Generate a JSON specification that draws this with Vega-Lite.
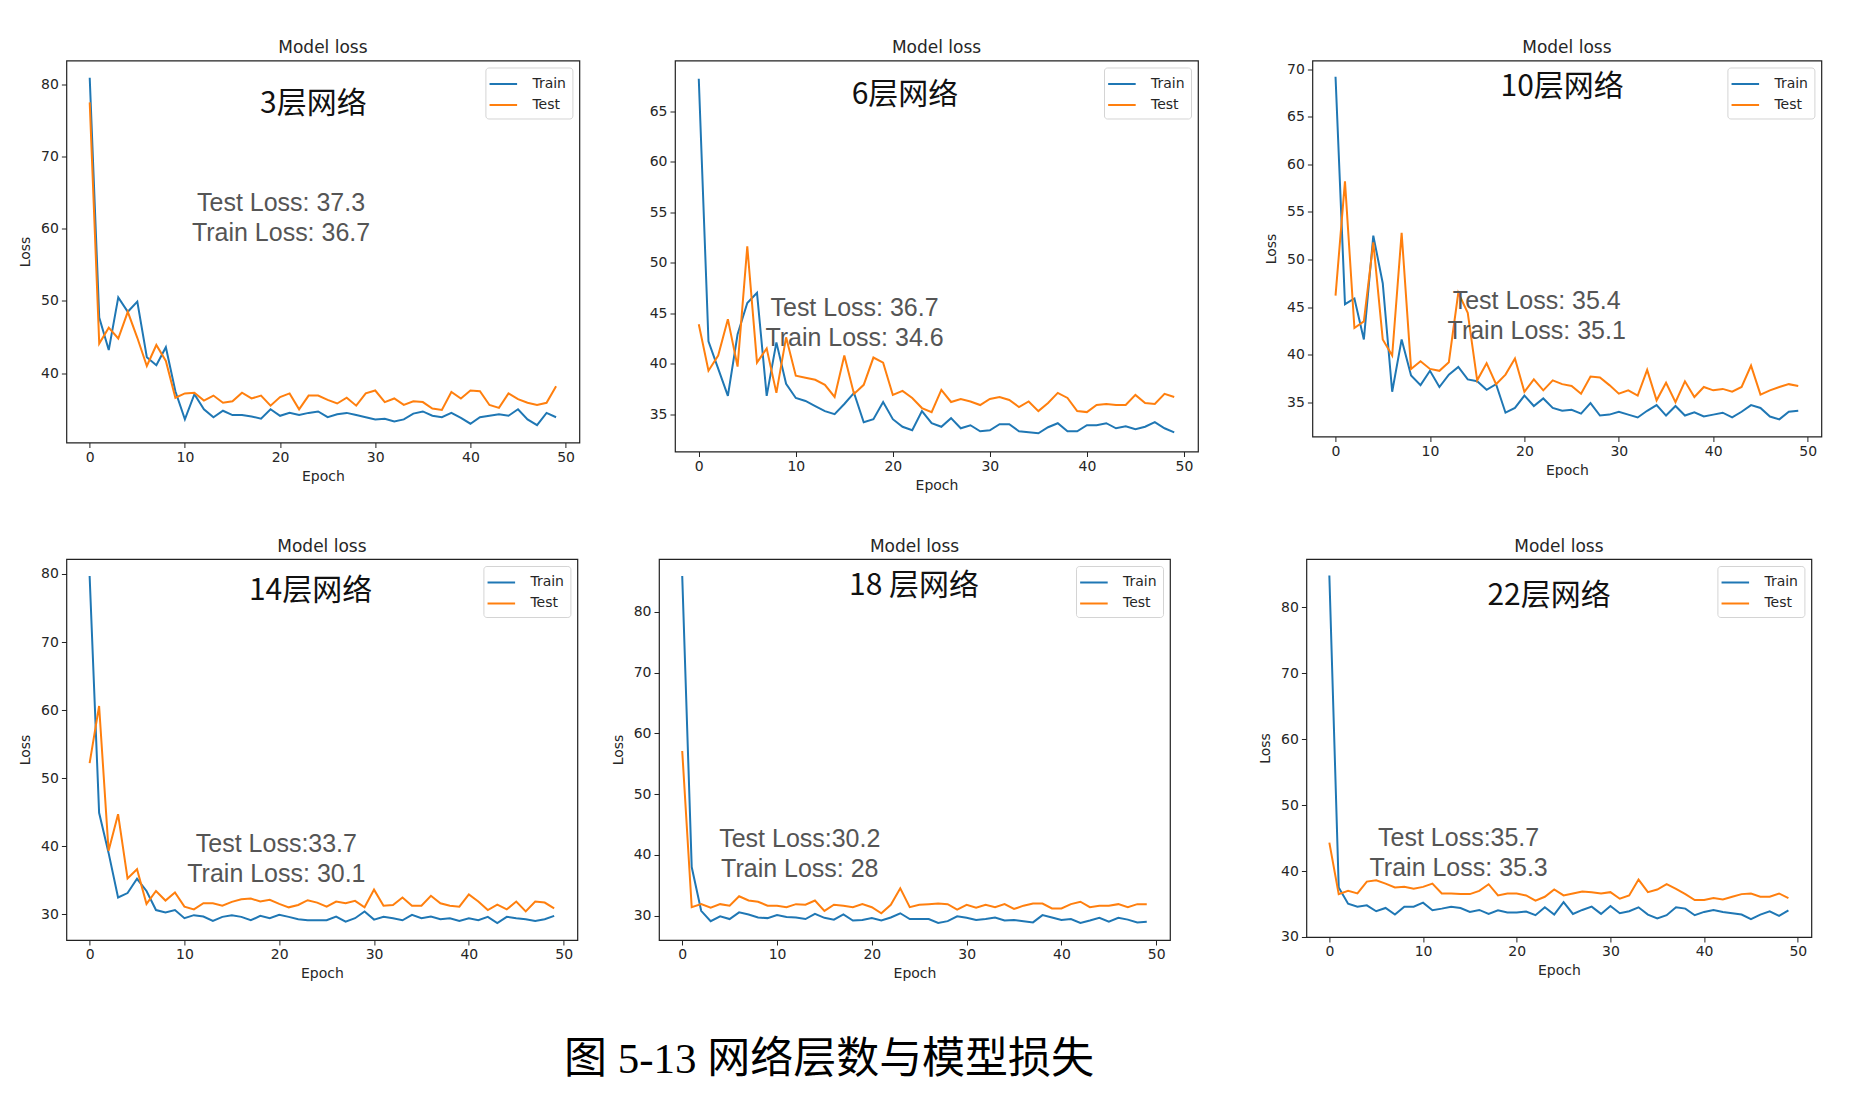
{
  "$schema": "https://vega.github.io/schema/vega-lite/v6.json",
  "background": "white",
  "padding": {"left": 17.4, "top": 38.5, "right": 10, "bottom": 10},
  "title": {"text": "图 5-13 网络层数与模型损失", "orient": "bottom", "anchor": "middle", "font": "Liberation Serif, Noto Sans CJK SC", "fontSize": 43, "fontWeight": "normal", "color": "#000000", "offset": 57, "dx": -91},
  "datasets": {
    "p1": [
      {"epoch":0,"Train":80.9,"Test":77.5},{"epoch":1,"Train":47.7,"Test":44.1},{"epoch":2,"Train":43.2,"Test":46.3},{"epoch":3,"Train":50.5,"Test":44.8},{"epoch":4,"Train":48.5,"Test":48.5},{"epoch":5,"Train":49.9,"Test":44.9},{"epoch":6,"Train":42.2,"Test":41.0},{"epoch":7,"Train":41.1,"Test":43.9},{"epoch":8,"Train":43.6,"Test":41.7},{"epoch":9,"Train":37.5,"Test":36.6},
      {"epoch":10,"Train":33.6,"Test":37.2},{"epoch":11,"Train":37.1,"Test":37.3},{"epoch":12,"Train":35.0,"Test":36.2},{"epoch":13,"Train":33.9,"Test":36.9},{"epoch":14,"Train":34.8,"Test":35.9},{"epoch":15,"Train":34.2,"Test":36.1},{"epoch":16,"Train":34.2,"Test":37.3},{"epoch":17,"Train":34.0,"Test":36.5},{"epoch":18,"Train":33.7,"Test":36.9},{"epoch":19,"Train":35.0,"Test":35.5},
      {"epoch":20,"Train":34.1,"Test":36.7},{"epoch":21,"Train":34.5,"Test":37.2},{"epoch":22,"Train":34.2,"Test":35.0},{"epoch":23,"Train":34.5,"Test":36.9},{"epoch":24,"Train":34.7,"Test":36.9},{"epoch":25,"Train":33.9,"Test":36.3},{"epoch":26,"Train":34.3,"Test":35.8},{"epoch":27,"Train":34.5,"Test":36.6},{"epoch":28,"Train":34.2,"Test":35.5},{"epoch":29,"Train":33.9,"Test":37.2},
      {"epoch":30,"Train":33.6,"Test":37.6},{"epoch":31,"Train":33.7,"Test":36.0},{"epoch":32,"Train":33.3,"Test":36.5},{"epoch":33,"Train":33.6,"Test":35.6},{"epoch":34,"Train":34.4,"Test":36.1},{"epoch":35,"Train":34.7,"Test":36.0},{"epoch":36,"Train":34.1,"Test":35.1},{"epoch":37,"Train":33.9,"Test":34.9},{"epoch":38,"Train":34.5,"Test":37.4},{"epoch":39,"Train":33.8,"Test":36.5},
      {"epoch":40,"Train":33.0,"Test":37.6},{"epoch":41,"Train":33.9,"Test":37.5},{"epoch":42,"Train":34.1,"Test":35.6},{"epoch":43,"Train":34.3,"Test":35.2},{"epoch":44,"Train":34.1,"Test":37.2},{"epoch":45,"Train":35.0,"Test":36.4},{"epoch":46,"Train":33.6,"Test":35.9},{"epoch":47,"Train":32.8,"Test":35.6},{"epoch":48,"Train":34.5,"Test":35.9},{"epoch":49,"Train":33.9,"Test":38.2}
    ],
    "p2": [
      {"epoch":0,"Train":68.2,"Test":43.9},{"epoch":1,"Train":42.2,"Test":39.3},{"epoch":2,"Train":39.5,"Test":40.8},{"epoch":3,"Train":36.8,"Test":44.4},{"epoch":4,"Train":42.9,"Test":39.7},{"epoch":5,"Train":46.0,"Test":51.6},{"epoch":6,"Train":47.0,"Test":40.1},{"epoch":7,"Train":36.8,"Test":41.5},{"epoch":8,"Train":42.1,"Test":37.1},{"epoch":9,"Train":38.0,"Test":42.6},
      {"epoch":10,"Train":36.6,"Test":38.8},{"epoch":11,"Train":36.3,"Test":38.6},{"epoch":12,"Train":35.8,"Test":38.4},{"epoch":13,"Train":35.3,"Test":37.9},{"epoch":14,"Train":35.0,"Test":36.7},{"epoch":15,"Train":36.0,"Test":40.8},{"epoch":16,"Train":37.1,"Test":37.0},{"epoch":17,"Train":34.2,"Test":37.9},{"epoch":18,"Train":34.5,"Test":40.6},{"epoch":19,"Train":36.2,"Test":40.1},
      {"epoch":20,"Train":34.5,"Test":36.9},{"epoch":21,"Train":33.75,"Test":37.3},{"epoch":22,"Train":33.4,"Test":36.6},{"epoch":23,"Train":35.3,"Test":35.6},{"epoch":24,"Train":34.1,"Test":35.2},{"epoch":25,"Train":33.75,"Test":37.4},{"epoch":26,"Train":34.6,"Test":36.2},{"epoch":27,"Train":33.6,"Test":36.5},{"epoch":28,"Train":33.9,"Test":36.25},{"epoch":29,"Train":33.3,"Test":35.9},
      {"epoch":30,"Train":33.4,"Test":36.5},{"epoch":31,"Train":34.0,"Test":36.7},{"epoch":32,"Train":34.0,"Test":36.4},{"epoch":33,"Train":33.3,"Test":35.7},{"epoch":34,"Train":33.2,"Test":36.25},{"epoch":35,"Train":33.1,"Test":35.3},{"epoch":36,"Train":33.7,"Test":36.1},{"epoch":37,"Train":34.1,"Test":37.1},{"epoch":38,"Train":33.3,"Test":36.6},{"epoch":39,"Train":33.3,"Test":35.3},
      {"epoch":40,"Train":33.9,"Test":35.2},{"epoch":41,"Train":33.9,"Test":35.9},{"epoch":42,"Train":34.1,"Test":36.0},{"epoch":43,"Train":33.6,"Test":35.9},{"epoch":44,"Train":33.8,"Test":35.9},{"epoch":45,"Train":33.5,"Test":36.9},{"epoch":46,"Train":33.75,"Test":36.1},{"epoch":47,"Train":34.2,"Test":36.0},{"epoch":48,"Train":33.6,"Test":37.0},{"epoch":49,"Train":33.2,"Test":36.7}
    ],
    "p3": [
      {"epoch":0,"Train":69.2,"Test":46.2},{"epoch":1,"Train":45.3,"Test":58.2},{"epoch":2,"Train":45.9,"Test":42.8},{"epoch":3,"Train":41.6,"Test":43.5},{"epoch":4,"Train":52.5,"Test":51.8},{"epoch":5,"Train":47.5,"Test":41.6},{"epoch":6,"Train":36.1,"Test":39.9},{"epoch":7,"Train":41.6,"Test":52.8},{"epoch":8,"Train":37.8,"Test":38.5},{"epoch":9,"Train":36.8,"Test":39.3},
      {"epoch":10,"Train":38.3,"Test":38.5},{"epoch":11,"Train":36.6,"Test":38.3},{"epoch":12,"Train":37.9,"Test":39.2},{"epoch":13,"Train":38.7,"Test":46.5},{"epoch":14,"Train":37.4,"Test":44.4},{"epoch":15,"Train":37.2,"Test":37.3},{"epoch":16,"Train":36.3,"Test":39.1},{"epoch":17,"Train":36.9,"Test":36.9},{"epoch":18,"Train":33.9,"Test":37.9},{"epoch":19,"Train":34.4,"Test":39.6},
      {"epoch":20,"Train":35.7,"Test":36.1},{"epoch":21,"Train":34.6,"Test":37.4},{"epoch":22,"Train":35.4,"Test":36.25},{"epoch":23,"Train":34.4,"Test":37.3},{"epoch":24,"Train":34.1,"Test":36.9},{"epoch":25,"Train":34.2,"Test":36.7},{"epoch":26,"Train":33.8,"Test":35.9},{"epoch":27,"Train":34.9,"Test":37.7},{"epoch":28,"Train":33.6,"Test":37.6},{"epoch":29,"Train":33.7,"Test":36.8},
      {"epoch":30,"Train":34.0,"Test":35.9},{"epoch":31,"Train":33.7,"Test":36.25},{"epoch":32,"Train":33.4,"Test":35.7},{"epoch":33,"Train":34.1,"Test":38.4},{"epoch":34,"Train":34.7,"Test":35.2},{"epoch":35,"Train":33.6,"Test":37.05},{"epoch":36,"Train":34.6,"Test":35.0},{"epoch":37,"Train":33.6,"Test":37.2},{"epoch":38,"Train":33.95,"Test":35.55},{"epoch":39,"Train":33.5,"Test":36.6},
      {"epoch":40,"Train":33.7,"Test":36.25},{"epoch":41,"Train":33.9,"Test":36.4},{"epoch":42,"Train":33.4,"Test":36.1},{"epoch":43,"Train":34.0,"Test":36.6},{"epoch":44,"Train":34.7,"Test":38.85},{"epoch":45,"Train":34.4,"Test":35.8},{"epoch":46,"Train":33.5,"Test":36.25},{"epoch":47,"Train":33.2,"Test":36.6},{"epoch":48,"Train":34.0,"Test":36.9},{"epoch":49,"Train":34.1,"Test":36.7}
    ],
    "p4": [
      {"epoch":0,"Train":79.7,"Test":52.2},{"epoch":1,"Train":44.9,"Test":60.6},{"epoch":2,"Train":39.0,"Test":39.3},{"epoch":3,"Train":32.45,"Test":44.7},{"epoch":4,"Train":33.1,"Test":35.25},{"epoch":5,"Train":35.2,"Test":36.6},{"epoch":6,"Train":33.4,"Test":31.5},{"epoch":7,"Train":30.6,"Test":33.4},{"epoch":8,"Train":30.25,"Test":32.0},{"epoch":9,"Train":30.6,"Test":33.2},
      {"epoch":10,"Train":29.4,"Test":31.1},{"epoch":11,"Train":29.85,"Test":30.7},{"epoch":12,"Train":29.65,"Test":31.6},{"epoch":13,"Train":29.0,"Test":31.6},{"epoch":14,"Train":29.6,"Test":31.25},{"epoch":15,"Train":29.85,"Test":31.8},{"epoch":16,"Train":29.6,"Test":32.2},{"epoch":17,"Train":29.1,"Test":32.3},{"epoch":18,"Train":29.75,"Test":31.85},{"epoch":19,"Train":29.4,"Test":32.1},
      {"epoch":20,"Train":29.9,"Test":31.5},{"epoch":21,"Train":29.6,"Test":31.0},{"epoch":22,"Train":29.25,"Test":31.35},{"epoch":23,"Train":29.1,"Test":32.05},{"epoch":24,"Train":29.1,"Test":31.7},{"epoch":25,"Train":29.1,"Test":31.1},{"epoch":26,"Train":29.65,"Test":31.85},{"epoch":27,"Train":28.9,"Test":31.6},{"epoch":28,"Train":29.4,"Test":31.95},{"epoch":29,"Train":30.4,"Test":31.0},
      {"epoch":30,"Train":29.2,"Test":33.6},{"epoch":31,"Train":29.6,"Test":31.25},{"epoch":32,"Train":29.4,"Test":31.35},{"epoch":33,"Train":29.1,"Test":32.45},{"epoch":34,"Train":29.9,"Test":31.25},{"epoch":35,"Train":29.4,"Test":31.25},{"epoch":36,"Train":29.65,"Test":32.7},{"epoch":37,"Train":29.25,"Test":31.6},{"epoch":38,"Train":29.4,"Test":31.25},{"epoch":39,"Train":29.0,"Test":31.1},
      {"epoch":40,"Train":29.4,"Test":32.9},{"epoch":41,"Train":29.1,"Test":31.85},{"epoch":42,"Train":29.6,"Test":30.6},{"epoch":43,"Train":28.7,"Test":31.4},{"epoch":44,"Train":29.6,"Test":30.7},{"epoch":45,"Train":29.4,"Test":31.85},{"epoch":46,"Train":29.25,"Test":30.4},{"epoch":47,"Train":29.0,"Test":31.85},{"epoch":48,"Train":29.25,"Test":31.7},{"epoch":49,"Train":29.75,"Test":30.85}
    ],
    "p5": [
      {"epoch":0,"Train":85.9,"Test":57.1},{"epoch":1,"Train":38.0,"Test":31.4},{"epoch":2,"Train":30.8,"Test":31.9},{"epoch":3,"Train":29.1,"Test":31.3},{"epoch":4,"Train":29.9,"Test":31.9},{"epoch":5,"Train":29.45,"Test":31.65},{"epoch":6,"Train":30.55,"Test":33.2},{"epoch":7,"Train":30.2,"Test":32.5},{"epoch":8,"Train":29.7,"Test":32.3},{"epoch":9,"Train":29.6,"Test":31.65},
      {"epoch":10,"Train":30.1,"Test":31.65},{"epoch":11,"Train":29.8,"Test":31.4},{"epoch":12,"Train":29.7,"Test":31.9},{"epoch":13,"Train":29.45,"Test":31.8},{"epoch":14,"Train":30.3,"Test":32.5},{"epoch":15,"Train":29.65,"Test":30.8},{"epoch":16,"Train":29.35,"Test":31.8},{"epoch":17,"Train":30.2,"Test":31.65},{"epoch":18,"Train":29.2,"Test":31.4},{"epoch":19,"Train":29.3,"Test":31.9},
      {"epoch":20,"Train":29.6,"Test":31.4},{"epoch":21,"Train":29.2,"Test":30.4},{"epoch":22,"Train":29.7,"Test":31.8},{"epoch":23,"Train":30.4,"Test":34.5},{"epoch":24,"Train":29.45,"Test":31.4},{"epoch":25,"Train":29.45,"Test":31.8},{"epoch":26,"Train":29.45,"Test":31.9},{"epoch":27,"Train":28.8,"Test":32.0},{"epoch":28,"Train":29.1,"Test":31.9},{"epoch":29,"Train":29.9,"Test":31.0},
      {"epoch":30,"Train":29.65,"Test":31.8},{"epoch":31,"Train":29.3,"Test":31.3},{"epoch":32,"Train":29.45,"Test":31.8},{"epoch":33,"Train":29.7,"Test":31.4},{"epoch":34,"Train":29.2,"Test":31.9},{"epoch":35,"Train":29.3,"Test":31.1},{"epoch":36,"Train":29.1,"Test":31.65},{"epoch":37,"Train":28.9,"Test":32.0},{"epoch":38,"Train":30.1,"Test":32.0},{"epoch":39,"Train":29.7,"Test":31.2},
      {"epoch":40,"Train":29.3,"Test":31.2},{"epoch":41,"Train":29.45,"Test":31.9},{"epoch":42,"Train":28.8,"Test":32.3},{"epoch":43,"Train":29.2,"Test":31.4},{"epoch":44,"Train":29.65,"Test":31.65},{"epoch":45,"Train":29.0,"Test":31.65},{"epoch":46,"Train":29.65,"Test":31.9},{"epoch":47,"Train":29.35,"Test":31.4},{"epoch":48,"Train":28.9,"Test":31.9},{"epoch":49,"Train":29.0,"Test":31.9}
    ],
    "p6": [
      {"epoch":0,"Train":84.8,"Test":44.3},{"epoch":1,"Train":37.5,"Test":36.5},{"epoch":2,"Train":35.05,"Test":37.0},{"epoch":3,"Train":34.6,"Test":36.6},{"epoch":4,"Train":34.8,"Test":38.4},{"epoch":5,"Train":33.9,"Test":38.6},{"epoch":6,"Train":34.4,"Test":38.1},{"epoch":7,"Train":33.4,"Test":37.5},{"epoch":8,"Train":34.6,"Test":37.6},{"epoch":9,"Train":34.6,"Test":37.3},
      {"epoch":10,"Train":35.2,"Test":37.6},{"epoch":11,"Train":34.05,"Test":38.1},{"epoch":12,"Train":34.3,"Test":36.6},{"epoch":13,"Train":34.6,"Test":36.6},{"epoch":14,"Train":34.4,"Test":36.5},{"epoch":15,"Train":33.8,"Test":36.5},{"epoch":16,"Train":34.1,"Test":37.0},{"epoch":17,"Train":33.5,"Test":38.0},{"epoch":18,"Train":34.05,"Test":36.3},{"epoch":19,"Train":33.7,"Test":36.6},
      {"epoch":20,"Train":33.7,"Test":36.6},{"epoch":21,"Train":33.85,"Test":36.3},{"epoch":22,"Train":33.3,"Test":35.5},{"epoch":23,"Train":34.5,"Test":36.1},{"epoch":24,"Train":33.4,"Test":37.2},{"epoch":25,"Train":35.3,"Test":36.3},{"epoch":26,"Train":33.5,"Test":36.6},{"epoch":27,"Train":34.1,"Test":36.9},{"epoch":28,"Train":34.6,"Test":36.8},{"epoch":29,"Train":33.5,"Test":36.6},
      {"epoch":30,"Train":34.7,"Test":36.8},{"epoch":31,"Train":33.6,"Test":35.8},{"epoch":32,"Train":33.9,"Test":36.3},{"epoch":33,"Train":34.5,"Test":38.7},{"epoch":34,"Train":33.4,"Test":36.8},{"epoch":35,"Train":32.8,"Test":37.2},{"epoch":36,"Train":33.3,"Test":38.0},{"epoch":37,"Train":34.5,"Test":37.3},{"epoch":38,"Train":34.3,"Test":36.5},{"epoch":39,"Train":33.3,"Test":35.6},
      {"epoch":40,"Train":33.8,"Test":35.6},{"epoch":41,"Train":34.1,"Test":35.9},{"epoch":42,"Train":33.8,"Test":35.7},{"epoch":43,"Train":33.6,"Test":36.1},{"epoch":44,"Train":33.4,"Test":36.5},{"epoch":45,"Train":32.7,"Test":36.6},{"epoch":46,"Train":33.4,"Test":36.1},{"epoch":47,"Train":33.9,"Test":36.1},{"epoch":48,"Train":33.2,"Test":36.6},{"epoch":49,"Train":34.05,"Test":35.9}
    ]
  },
  "spacing": 43.5,
  "resolve": {"scale": {"color": "independent", "x": "independent", "y": "independent"}, "legend": {"color": "independent"}},
  "vconcat": [
    {
      "spacing": 64,
      "resolve": {"scale": {"color": "independent", "x": "independent", "y": "independent"}, "legend": {"color": "independent"}},
      "hconcat": [
        {
          "spacing": 67.6,
          "resolve": {"scale": {"color": "independent", "x": "independent", "y": "independent"}, "legend": {"color": "independent"}},
          "hconcat": [
            {
              "width": 513, "height": 382,
              "title": "Model loss",
              "layer": [
                {
                  "data": {"name": "p1"},
                  "transform": [{"fold": ["Train", "Test"], "as": ["series", "loss"]}],
                  "mark": {"type": "line", "strokeWidth": 2, "clip": true},
                  "encoding": {
                    "x": {"field": "epoch", "type": "quantitative", "scale": {"domain": [-2.45, 51.45], "nice": false, "zero": false}, "axis": {"title": "Epoch", "values": [0, 10, 20, 30, 40, 50]}},
                    "y": {"field": "loss", "type": "quantitative", "scale": {"domain": [30.4, 83.3], "nice": false, "zero": false}, "axis": {"title": "Loss", "values": [40, 50, 60, 70, 80]}},
                    "color": {"field": "series", "type": "nominal", "sort": ["Train", "Test"], "scale": {"domain": ["Train", "Test"], "range": ["#1f77b4", "#ff7f0e"]}, "legend": {"title": null, "orient": "top-right"}}
                  }
                },
                {
                  "data": {"values": [{}]},
                  "mark": {"type": "text", "font": "Noto Sans CJK SC", "fontSize": 30, "color": "#111111", "align": "center", "baseline": "middle"},
                  "encoding": {"x": {"datum": 23.5}, "y": {"datum": 77.3}, "text": {"value": "3层网络"}}
                },
                {
                  "data": {"values": [{}]},
                  "mark": {"type": "text", "font": "Liberation Sans", "fontSize": 25, "lineHeight": 30, "color": "#555555", "align": "center", "baseline": "middle"},
                  "encoding": {"x": {"datum": 20.1}, "y": {"datum": 63.6}, "text": {"value": ["Test Loss: 37.3", "Train Loss: 36.7"]}}
                }
              ]
            },
            {
              "width": 523, "height": 391,
              "title": "Model loss",
              "layer": [
                {
                  "data": {"name": "p2"},
                  "transform": [{"fold": ["Train", "Test"], "as": ["series", "loss"]}],
                  "mark": {"type": "line", "strokeWidth": 2, "clip": true},
                  "encoding": {
                    "x": {"field": "epoch", "type": "quantitative", "scale": {"domain": [-2.45, 51.45], "nice": false, "zero": false}, "axis": {"title": "Epoch", "values": [0, 10, 20, 30, 40, 50]}},
                    "y": {"field": "loss", "type": "quantitative", "scale": {"domain": [31.3, 70.0], "nice": false, "zero": false}, "axis": {"title": null, "values": [35, 40, 45, 50, 55, 60, 65]}},
                    "color": {"field": "series", "type": "nominal", "sort": ["Train", "Test"], "scale": {"domain": ["Train", "Test"], "range": ["#1f77b4", "#ff7f0e"]}, "legend": {"title": null, "orient": "top-right"}}
                  }
                },
                {
                  "data": {"values": [{}]},
                  "mark": {"type": "text", "font": "Noto Sans CJK SC", "fontSize": 30, "color": "#111111", "align": "center", "baseline": "middle"},
                  "encoding": {"x": {"datum": 21.25}, "y": {"datum": 66.6}, "text": {"value": "6层网络"}}
                },
                {
                  "data": {"values": [{}]},
                  "mark": {"type": "text", "font": "Liberation Sans", "fontSize": 25, "lineHeight": 30, "color": "#555555", "align": "center", "baseline": "middle"},
                  "encoding": {"x": {"datum": 16.05}, "y": {"datum": 45.5}, "text": {"value": ["Test Loss: 36.7", "Train Loss: 34.6"]}}
                }
              ]
            }
          ]
        },
        {
          "width": 509, "height": 376,
          "title": "Model loss",
          "layer": [
            {
              "data": {"name": "p3"},
              "transform": [{"fold": ["Train", "Test"], "as": ["series", "loss"]}],
              "mark": {"type": "line", "strokeWidth": 2, "clip": true},
              "encoding": {
                "x": {"field": "epoch", "type": "quantitative", "scale": {"domain": [-2.45, 51.45], "nice": false, "zero": false}, "axis": {"title": "Epoch", "values": [0, 10, 20, 30, 40, 50]}},
                "y": {"field": "loss", "type": "quantitative", "scale": {"domain": [31.4, 70.9], "nice": false, "zero": false}, "axis": {"title": "Loss", "values": [35, 40, 45, 50, 55, 60, 65, 70]}},
                "color": {"field": "series", "type": "nominal", "sort": ["Train", "Test"], "scale": {"domain": ["Train", "Test"], "range": ["#1f77b4", "#ff7f0e"]}, "legend": {"title": null, "orient": "top-right"}}
              }
            },
            {
              "data": {"values": [{}]},
              "mark": {"type": "text", "font": "Noto Sans CJK SC", "fontSize": 30, "color": "#111111", "align": "center", "baseline": "middle"},
              "encoding": {"x": {"datum": 24.0}, "y": {"datum": 68.1}, "text": {"value": "10层网络"}}
            },
            {
              "data": {"values": [{}]},
              "mark": {"type": "text", "font": "Liberation Sans", "fontSize": 25, "lineHeight": 30, "color": "#555555", "align": "center", "baseline": "middle"},
              "encoding": {"x": {"datum": 21.3}, "y": {"datum": 45.6}, "text": {"value": ["Test Loss: 35.4", "Train Loss: 35.1"]}}
            }
          ]
        }
      ]
    },
    {
      "spacing": 86,
      "resolve": {"scale": {"color": "independent", "x": "independent", "y": "independent"}, "legend": {"color": "independent"}},
      "hconcat": [
        {
          "spacing": 31.6,
          "resolve": {"scale": {"color": "independent", "x": "independent", "y": "independent"}, "legend": {"color": "independent"}},
          "hconcat": [
            {
              "width": 511, "height": 381,
              "title": "Model loss",
              "layer": [
                {
                  "data": {"name": "p4"},
                  "transform": [{"fold": ["Train", "Test"], "as": ["series", "loss"]}],
                  "mark": {"type": "line", "strokeWidth": 2, "clip": true},
                  "encoding": {
                    "x": {"field": "epoch", "type": "quantitative", "scale": {"domain": [-2.45, 51.45], "nice": false, "zero": false}, "axis": {"title": "Epoch", "values": [0, 10, 20, 30, 40, 50]}},
                    "y": {"field": "loss", "type": "quantitative", "scale": {"domain": [26.2, 82.2], "nice": false, "zero": false}, "axis": {"title": "Loss", "values": [30, 40, 50, 60, 70, 80]}},
                    "color": {"field": "series", "type": "nominal", "sort": ["Train", "Test"], "scale": {"domain": ["Train", "Test"], "range": ["#1f77b4", "#ff7f0e"]}, "legend": {"title": null, "orient": "top-right"}}
                  }
                },
                {
                  "data": {"values": [{}]},
                  "mark": {"type": "text", "font": "Noto Sans CJK SC", "fontSize": 30, "color": "#111111", "align": "center", "baseline": "middle"},
                  "encoding": {"x": {"datum": 23.3}, "y": {"datum": 77.5}, "text": {"value": "14层网络"}}
                },
                {
                  "data": {"values": [{}]},
                  "mark": {"type": "text", "font": "Liberation Sans", "fontSize": 25, "lineHeight": 30, "color": "#555555", "align": "center", "baseline": "middle"},
                  "encoding": {"x": {"datum": 19.7}, "y": {"datum": 40.3}, "text": {"value": ["Test Loss:33.7", "Train Loss: 30.1"]}}
                }
              ]
            },
            {
              "width": 511, "height": 381,
              "title": "Model loss",
              "layer": [
                {
                  "data": {"name": "p5"},
                  "transform": [{"fold": ["Train", "Test"], "as": ["series", "loss"]}],
                  "mark": {"type": "line", "strokeWidth": 2, "clip": true},
                  "encoding": {
                    "x": {"field": "epoch", "type": "quantitative", "scale": {"domain": [-2.45, 51.45], "nice": false, "zero": false}, "axis": {"title": "Epoch", "values": [0, 10, 20, 30, 40, 50]}},
                    "y": {"field": "loss", "type": "quantitative", "scale": {"domain": [26.0, 88.7], "nice": false, "zero": false}, "axis": {"title": "Loss", "values": [30, 40, 50, 60, 70, 80]}},
                    "color": {"field": "series", "type": "nominal", "sort": ["Train", "Test"], "scale": {"domain": ["Train", "Test"], "range": ["#1f77b4", "#ff7f0e"]}, "legend": {"title": null, "orient": "top-right"}}
                  }
                },
                {
                  "data": {"values": [{}]},
                  "mark": {"type": "text", "font": "Noto Sans CJK SC", "fontSize": 30, "color": "#111111", "align": "center", "baseline": "middle"},
                  "encoding": {"x": {"datum": 24.45}, "y": {"datum": 84.2}, "text": {"value": "18 层网络"}}
                },
                {
                  "data": {"values": [{}]},
                  "mark": {"type": "text", "font": "Liberation Sans", "fontSize": 25, "lineHeight": 30, "color": "#555555", "align": "center", "baseline": "middle"},
                  "encoding": {"x": {"datum": 12.4}, "y": {"datum": 42.6}, "text": {"value": ["Test Loss:30.2", "Train Loss: 28"]}}
                }
              ]
            }
          ]
        },
        {
          "width": 505, "height": 378,
          "title": "Model loss",
          "layer": [
            {
              "data": {"name": "p6"},
              "transform": [{"fold": ["Train", "Test"], "as": ["series", "loss"]}],
              "mark": {"type": "line", "strokeWidth": 2, "clip": true},
              "encoding": {
                "x": {"field": "epoch", "type": "quantitative", "scale": {"domain": [-2.45, 51.45], "nice": false, "zero": false}, "axis": {"title": "Epoch", "values": [0, 10, 20, 30, 40, 50]}},
                "y": {"field": "loss", "type": "quantitative", "scale": {"domain": [30.0, 87.3], "nice": false, "zero": false}, "axis": {"title": "Loss", "values": [30, 40, 50, 60, 70, 80]}},
                "color": {"field": "series", "type": "nominal", "sort": ["Train", "Test"], "scale": {"domain": ["Train", "Test"], "range": ["#1f77b4", "#ff7f0e"]}, "legend": {"title": null, "orient": "top-right"}}
              }
            },
            {
              "data": {"values": [{}]},
              "mark": {"type": "text", "font": "Noto Sans CJK SC", "fontSize": 30, "color": "#111111", "align": "center", "baseline": "middle"},
              "encoding": {"x": {"datum": 23.45}, "y": {"datum": 81.7}, "text": {"value": "22层网络"}}
            },
            {
              "data": {"values": [{}]},
              "mark": {"type": "text", "font": "Liberation Sans", "fontSize": 25, "lineHeight": 30, "color": "#555555", "align": "center", "baseline": "middle"},
              "encoding": {"x": {"datum": 13.8}, "y": {"datum": 45.05}, "text": {"value": ["Test Loss:35.7", "Train Loss: 35.3"]}}
            }
          ]
        }
      ]
    }
  ],
  "config": {
    "font": "DejaVu Sans",
    "view": {"stroke": "#222222", "strokeWidth": 1.2},
    "axis": {"domain": false, "grid": false, "ticks": true, "tickColor": "#222222", "tickSize": 5, "tickWidth": 1, "labelFont": "DejaVu Sans", "labelFontSize": 14, "labelColor": "#262626", "labelPadding": 3, "titleFont": "DejaVu Sans", "titleFontSize": 14, "titleFontWeight": "normal", "titleColor": "#262626"},
    "axisX": {"titlePadding": 5},
    "axisY": {"titlePadding": 8},
    "title": {"font": "DejaVu Sans", "fontSize": 17, "fontWeight": "normal", "color": "#262626", "anchor": "middle", "offset": 3.4},
    "legend": {"offset": 7, "padding": 6, "strokeColor": "#d4d4d4", "fillColor": "white", "cornerRadius": 3, "symbolType": "M-1.3,0H1.6", "symbolSize": 361, "symbolStrokeWidth": 2, "labelFont": "DejaVu Sans", "labelFontSize": 14, "labelColor": "#262626", "labelOffset": 20, "rowPadding": 3}
  }
}
